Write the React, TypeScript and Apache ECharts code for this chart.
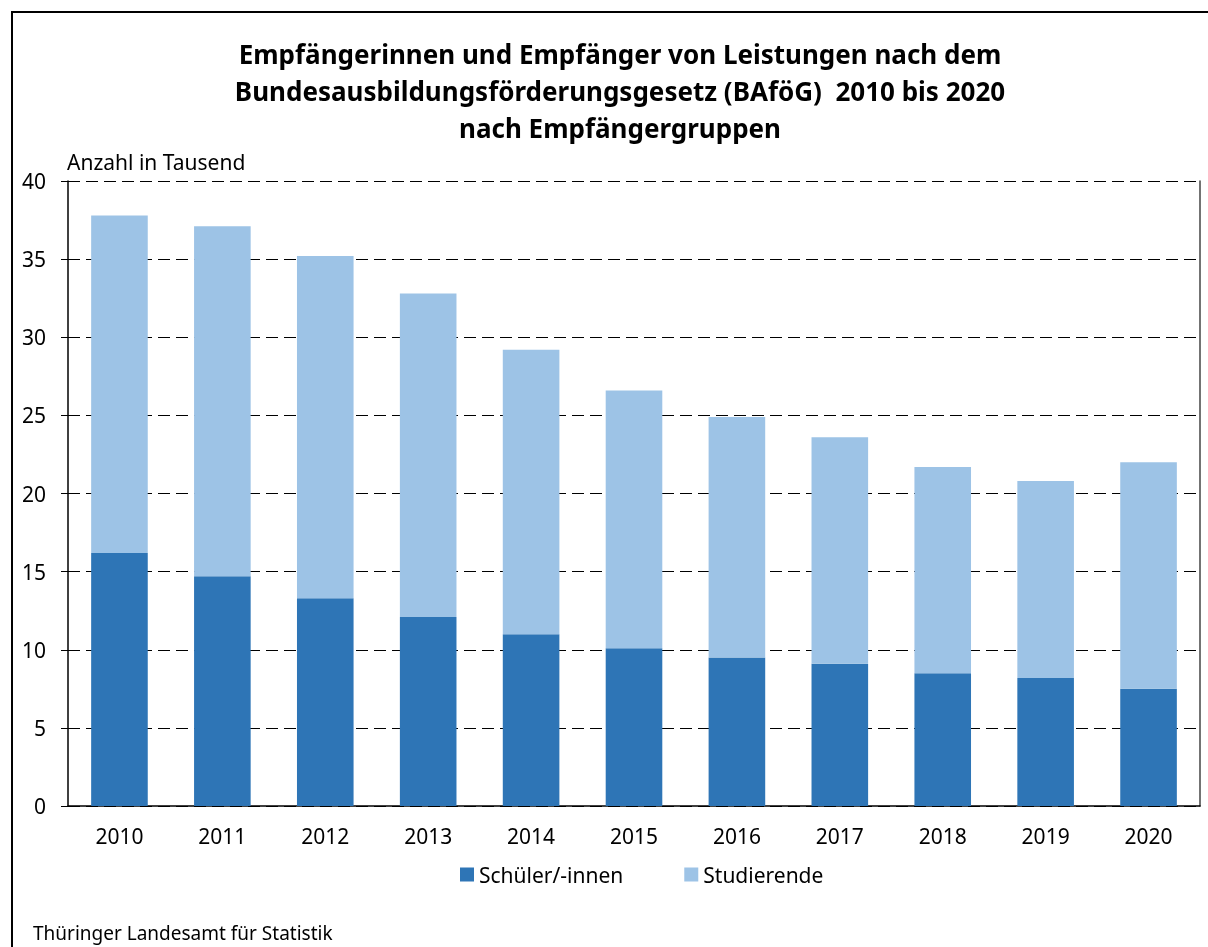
import React, { useEffect, useRef } from "react";
import * as echarts from "echarts";

const years = ["2010", "2011", "2012", "2013", "2014", "2015", "2016", "2017", "2018", "2019", "2020"];
const schueler = [16.2, 14.7, 13.3, 12.1, 11.0, 10.1, 9.5, 9.1, 8.5, 8.2, 7.5];
const studierende = [21.6, 22.4, 21.9, 20.7, 18.2, 16.5, 15.4, 14.5, 13.2, 12.6, 14.5];
const yTicks = [0, 5, 10, 15, 20, 25, 30, 35, 40];

const FONT = "Noto Sans";

export default function App() {
  const ref = useRef<HTMLDivElement>(null);
  useEffect(() => {
    const chart = echarts.init(ref.current!, undefined, { renderer: "svg" });
    chart.setOption({
      animation: false,
      textStyle: { fontFamily: FONT },
      title: {
        text: "Empfängerinnen und Empfänger von Leistungen nach dem\nBundesausbildungsförderungsgesetz (BAföG)  2010 bis 2020\nnach Empfängergruppen",
        left: 615,
        top: 30,
        textAlign: "center",
        textStyle: { fontFamily: FONT, fontWeight: "bold", fontSize: 26, lineHeight: 37, color: "#000" },
      },
      legend: {
        bottom: 57,
        left: 455,
        itemWidth: 14,
        itemHeight: 14,
        itemGap: 61,
        icon: "rect",
        textStyle: { fontFamily: FONT, fontSize: 21, color: "#000" },
        data: ["Schüler/-innen", "Studierende"],
      },
      grid: { left: 68, right: 8, top: 181, bottom: 141, containLabel: false },
      xAxis: {
        type: "category",
        data: years,
        axisLine: { lineStyle: { color: "#000", width: 1.5 } },
        axisTick: { show: false },
        axisLabel: { fontFamily: FONT, fontSize: 21, color: "#000", margin: 19 },
      },
      yAxis: [
        {
          type: "value",
          min: 0,
          max: 40,
          interval: 5,
          name: "Anzahl in Tausend",
          nameLocation: "end",
          nameGap: 9,
          nameTextStyle: { fontFamily: FONT, fontSize: 21, color: "#000", align: "left", padding: [0, 0, 0, -1] },
          axisLine: { show: true, lineStyle: { color: "#000", width: 1.5 } },
          axisTick: { show: true, length: 7, lineStyle: { color: "#000" } },
          axisLabel: {
            fontFamily: FONT,
            fontSize: 21,
            color: "#000",
            margin: 22,
            formatter: (v: number) => (yTicks.includes(v) ? String(v) : ""),
          },
          splitLine: { show: true, lineStyle: { color: "#000", type: [12, 6], width: 1 } },
        },
        {
          type: "value",
          position: "right",
          min: 0,
          max: 40,
          interval: 5,
          axisLine: { show: true, lineStyle: { color: "#444", width: 1.5 } },
          axisTick: { show: false },
          axisLabel: { show: false },
          splitLine: { show: false },
        },
      ],
      series: [
        {
          name: "Schüler/-innen",
          type: "bar",
          stack: "a",
          data: schueler,
          barWidth: "55%",
          itemStyle: { color: "#2E75B6" },
        },
        {
          name: "Studierende",
          type: "bar",
          stack: "a",
          data: studierende,
          barWidth: "55%",
          itemStyle: { color: "#9DC3E6" },
        },
      ],
      graphic: [
        {
          type: "rect",
          shape: { x: 12, y: 12, width: 1400, height: 1200 },
          style: { fill: "none", stroke: "#000", lineWidth: 2 },
        },
        {
          type: "text",
          left: 33,
          top: 923,
          style: { text: "Thüringer Landesamt für Statistik", fontFamily: FONT, fontSize: 19, fill: "#000" },
        },
      ],
    });
    return () => chart.dispose();
  }, []);
  return <div ref={ref} style={{ position: "fixed", left: 0, top: 0, width: 1208, height: 947 }} />;
}
